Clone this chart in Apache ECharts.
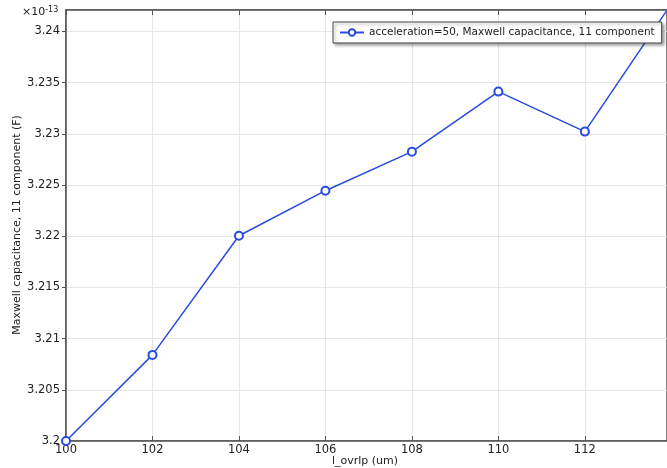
<!DOCTYPE html>
<html><head><meta charset="utf-8">
<script src="https://cdn.jsdelivr.net/npm/echarts@6/dist/echarts.min.js"></script>
<style>html,body{margin:0;padding:0;background:#fff}#c{width:667px;height:468px}</style>
</head><body><div id="c"></div>
<script>
const xValues = [100, 102, 104, 106, 108, 110, 112, 114];
const capValues = [3.2, 3.20841, 3.22005, 3.22445, 3.22826, 3.23413, 3.23022, 3.2427];
const seriesName = 'acceleration=50, Maxwell capacitance, 11 component';
const xTitle = 'l_ovrlp (um)';
const yTitle = 'Maxwell capacitance, 11 component (F)';
const chart = echarts.init(document.getElementById('c'));
const font = 'DejaVu Sans';
const axisCol = '#555';
chart.setOption({
  animation: false,
  textStyle: {fontFamily: font},
  grid: {left: 66, top: 10, right: 0, bottom: 27, outerBoundsMode: 'none', containLabel: false,
    show: true, borderColor: axisCol, borderWidth: 1.5},
  legend: {
    left: 333, top: 22, itemWidth: 24, itemHeight: 8, itemGap: 4,
    padding: [5, 7, 5, 6],
    backgroundColor: '#fff', borderColor: '#444', borderWidth: 1,
    shadowColor: 'rgba(0,0,0,0.35)', shadowBlur: 3, shadowOffsetX: 2, shadowOffsetY: 2,
    textStyle: {fontFamily: font, fontSize: 10.5, color: '#222'},
    data: [seriesName]
  },
  graphic: [{
    type: 'text', left: 22, top: 6,
    style: {
      text: '{a|×10}{b|-13}',
      rich: {a: {fontFamily: font, fontSize: 11, fill: '#222'}, b: {fontFamily: font, fontSize: 8, fill: '#222', verticalAlign: 'top', padding: [0, 0, 5, 0]}}
    }
  }, {
    type: 'text', x: 365, y: 461,
    style: {text: xTitle, font: '11px "DejaVu Sans"', fill: '#222', align: 'center', verticalAlign: 'middle'}
  }, {
    type: 'text', x: 17, y: 225, rotation: Math.PI / 2,
    style: {text: yTitle, font: '11px "DejaVu Sans"', fill: '#222', align: 'center', verticalAlign: 'middle'}
  }],
  xAxis: [{
    type: 'value', min: 100, max: 113.9, interval: 2,
    axisLine: {show: true, lineStyle: {color: axisCol, width: 1.5}},
    axisTick: {show: true, inside: true, length: 5, lineStyle: {color: axisCol}},
    axisLabel: {fontFamily: font, fontSize: 11.5, color: '#222', margin: 3, showMaxLabel: false},
    splitLine: {show: true, lineStyle: {color: '#e6e6e6'}}
  }, {
    type: 'value', position: 'top', min: 100, max: 113.9, interval: 2,
    axisLine: {show: true, lineStyle: {color: axisCol, width: 1.5}},
    axisTick: {show: true, inside: true, length: 5, lineStyle: {color: axisCol}},
    axisLabel: {show: false}, splitLine: {show: false}
  }],
  yAxis: {
    type: 'value', min: 3.2, max: 3.2421, interval: 0.005,
    axisLine: {show: true, lineStyle: {color: axisCol, width: 1.5}},
    axisTick: {show: true, inside: false, length: 4, lineStyle: {color: axisCol}},
    axisLabel: {fontFamily: font, fontSize: 11.5, color: '#222', margin: 6, showMaxLabel: false,
      formatter: v => String(parseFloat(v.toFixed(4)))},
    splitLine: {show: true, lineStyle: {color: '#e6e6e6'}}
  },
  series: [{
    name: seriesName, type: 'line', clip: true,
    data: xValues.map((x, i) => [x, capValues[i]]),
    symbol: 'emptyCircle', symbolSize: 8,
    lineStyle: {color: '#2a4be0', width: 1.5},
    itemStyle: {color: '#2a4be0', borderWidth: 1.5}
  }]
});
</script></body></html>
